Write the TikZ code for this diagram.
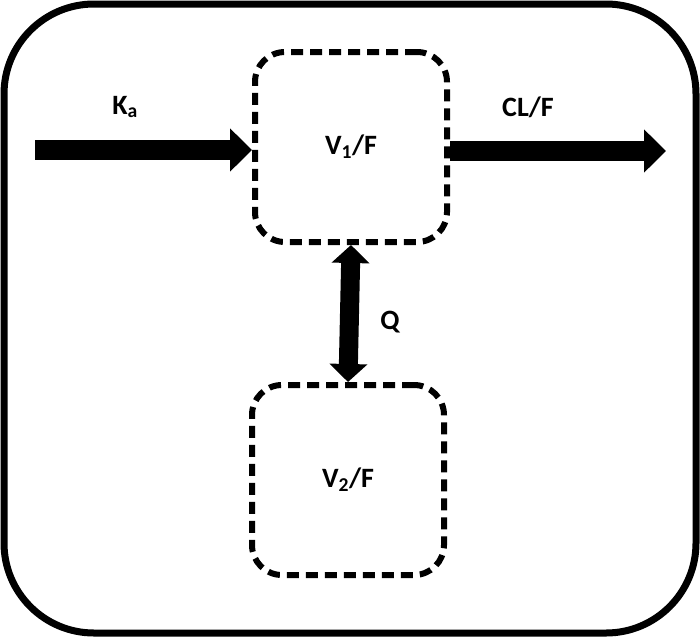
\documentclass[tikz,border=0pt]{standalone}
\usepackage{fontspec}
\setmainfont{Carlito}
\usetikzlibrary{arrows.meta,positioning}

\begin{document}
\begin{tikzpicture}[x=1pt, y=-1pt,
    every node/.style={font=\fontsize{28}{32}\selectfont\bfseries},
    compartment/.style={draw, line width=6pt, dash pattern=on 12pt off 7pt,
        rounded corners=30pt, minimum width=192pt, minimum height=190pt},
    flow/.style={line width=20pt, -{Triangle[length=22pt, width=42pt]}},
    exchange/.style={line width=19pt,
        {Triangle[length=18pt, width=37pt]}-{Triangle[length=18pt, width=37pt]}}]

    % Fix the page size
    \useasboundingbox (0,0) rectangle (700,637);

    % Draw the outer frame
    \draw[line width=7pt, rounded corners=90pt] (4,4) rectangle (696,633);

    % Draw the two compartments
    \node[compartment] (central) at (351,147) {V\textsubscript{1}/F};
    \node[compartment] (periph) at (348,480) {V\textsubscript{2}/F};

    % Absorption and elimination
    \coordinate (dose) at (35,150);
    \coordinate (out) at (666,151);
    \draw[flow] (dose) -- (dose -| central.west);
    \draw[flow] (central.east |- out) -- (out);
    \node (ka) at (125,107) {K\textsubscript{a}};
    \node (cl) at (528,107) {CL/F};

    % Intercompartmental exchange
    \draw[exchange] (central.south) -- (periph.north);
    \node (q) at (390,322) {Q};

\end{tikzpicture}
\end{document}
